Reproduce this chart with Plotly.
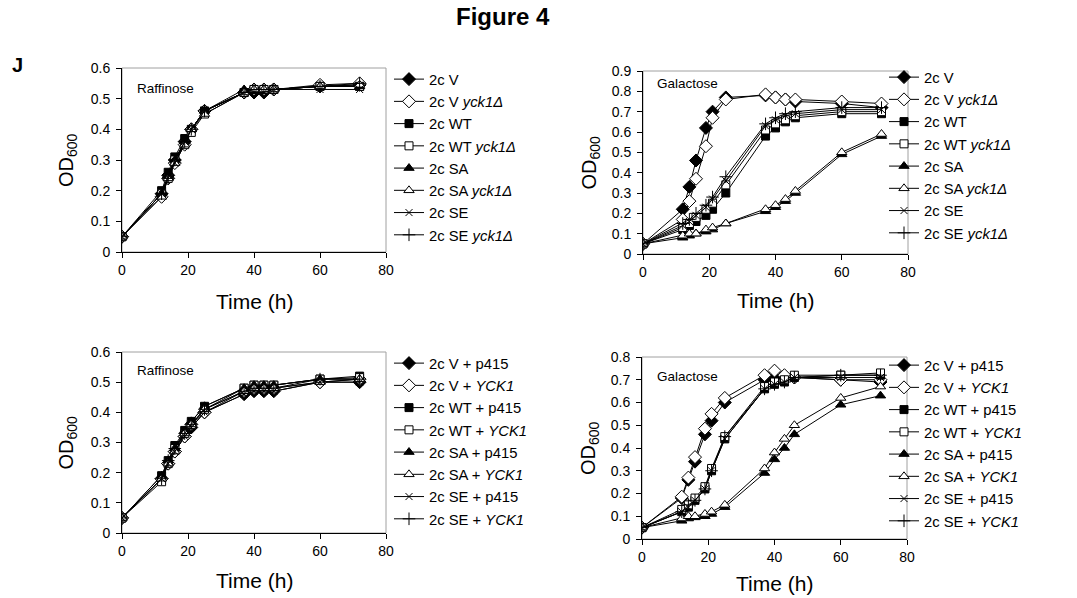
import plotly.graph_objects as go

W, H = 1077, 598

# ---------------- data ----------------
time_h = [0, 12, 14, 16, 19, 21, 25, 37, 40, 43, 46, 60, 72]

# top-left: Raffinose (yck1 deletion)
rafA_V     = [0.05, 0.19, 0.25, 0.30, 0.36, 0.40, 0.46, 0.52, 0.52, 0.52, 0.53, 0.54, 0.545]
rafA_V_d   = [0.05, 0.18, 0.24, 0.29, 0.35, 0.40, 0.46, 0.52, 0.53, 0.53, 0.53, 0.545, 0.55]
rafA_WT    = [0.05, 0.20, 0.26, 0.31, 0.37, 0.40, 0.46, 0.52, 0.53, 0.53, 0.53, 0.54, 0.54]
rafA_WT_d  = [0.05, 0.19, 0.24, 0.30, 0.35, 0.39, 0.45, 0.52, 0.53, 0.53, 0.53, 0.54, 0.54]
rafA_SA    = [0.05, 0.19, 0.25, 0.30, 0.36, 0.40, 0.46, 0.53, 0.53, 0.53, 0.53, 0.54, 0.54]
rafA_SA_d  = [0.05, 0.18, 0.24, 0.29, 0.35, 0.40, 0.45, 0.52, 0.53, 0.53, 0.53, 0.54, 0.545]
rafA_SE    = [0.05, 0.19, 0.25, 0.29, 0.36, 0.40, 0.46, 0.52, 0.52, 0.52, 0.53, 0.53, 0.53]
rafA_SE_d  = [0.05, 0.19, 0.24, 0.30, 0.36, 0.40, 0.46, 0.52, 0.53, 0.53, 0.53, 0.54, 0.55]

# top-right: Galactose (yck1 deletion)
galB_V     = [0.05, 0.22, 0.33, 0.46, 0.62, 0.70, 0.77, 0.78, 0.77, 0.76, 0.75, 0.74, 0.72]
galB_V_d   = [0.05, 0.17, 0.26, 0.37, 0.53, 0.67, 0.76, 0.785, 0.77, 0.76, 0.76, 0.75, 0.74]
galB_WT    = [0.05, 0.12, 0.14, 0.16, 0.19, 0.22, 0.30, 0.58, 0.62, 0.65, 0.67, 0.69, 0.69]
galB_WT_d  = [0.05, 0.13, 0.15, 0.18, 0.22, 0.25, 0.34, 0.61, 0.64, 0.66, 0.68, 0.70, 0.70]
galB_SA    = [0.05, 0.08, 0.09, 0.10, 0.11, 0.12, 0.15, 0.21, 0.23, 0.26, 0.30, 0.49, 0.58]
galB_SA_d  = [0.05, 0.09, 0.10, 0.10, 0.12, 0.13, 0.15, 0.22, 0.24, 0.27, 0.31, 0.50, 0.59]
galB_SE    = [0.05, 0.14, 0.16, 0.19, 0.23, 0.27, 0.36, 0.63, 0.66, 0.68, 0.69, 0.71, 0.71]
galB_SE_d  = [0.05, 0.15, 0.17, 0.20, 0.24, 0.28, 0.38, 0.64, 0.67, 0.69, 0.70, 0.72, 0.72]

# bottom-left: Raffinose (YCK1 plasmid)
rafC_V     = [0.05, 0.18, 0.23, 0.27, 0.32, 0.35, 0.40, 0.46, 0.47, 0.47, 0.47, 0.50, 0.50]
rafC_V_y   = [0.05, 0.18, 0.23, 0.27, 0.32, 0.36, 0.40, 0.47, 0.48, 0.48, 0.48, 0.50, 0.51]
rafC_WT    = [0.05, 0.19, 0.24, 0.29, 0.34, 0.37, 0.42, 0.48, 0.49, 0.49, 0.49, 0.51, 0.52]
rafC_WT_y  = [0.05, 0.17, 0.23, 0.28, 0.33, 0.36, 0.41, 0.48, 0.49, 0.49, 0.49, 0.51, 0.515]
rafC_SA    = [0.05, 0.19, 0.24, 0.28, 0.34, 0.37, 0.42, 0.48, 0.49, 0.49, 0.49, 0.51, 0.51]
rafC_SA_y  = [0.05, 0.18, 0.23, 0.27, 0.33, 0.36, 0.41, 0.47, 0.48, 0.48, 0.48, 0.50, 0.51]
rafC_SE    = [0.05, 0.18, 0.23, 0.27, 0.32, 0.35, 0.40, 0.46, 0.47, 0.47, 0.47, 0.50, 0.50]
rafC_SE_y  = [0.05, 0.18, 0.24, 0.28, 0.33, 0.36, 0.41, 0.47, 0.48, 0.48, 0.48, 0.51, 0.51]

# bottom-right: Galactose (YCK1 plasmid)
galD_V     = [0.05, 0.18, 0.26, 0.34, 0.46, 0.52, 0.60, 0.70, 0.71, 0.71, 0.71, 0.70, 0.69]
galD_V_y   = [0.05, 0.186, 0.27, 0.36, 0.485, 0.55, 0.62, 0.72, 0.74, 0.72, 0.71, 0.70, 0.70]
galD_WT    = [0.05, 0.12, 0.14, 0.17, 0.22, 0.30, 0.44, 0.66, 0.68, 0.69, 0.71, 0.72, 0.72]
galD_WT_y  = [0.05, 0.13, 0.15, 0.18, 0.23, 0.31, 0.45, 0.67, 0.69, 0.70, 0.72, 0.72, 0.73]
galD_SA    = [0.05, 0.08, 0.09, 0.095, 0.10, 0.11, 0.14, 0.29, 0.35, 0.40, 0.46, 0.59, 0.63]
galD_SA_y  = [0.05, 0.09, 0.10, 0.10, 0.11, 0.12, 0.15, 0.31, 0.38, 0.44, 0.50, 0.62, 0.67]
galD_SE    = [0.05, 0.12, 0.14, 0.17, 0.22, 0.30, 0.44, 0.66, 0.68, 0.69, 0.71, 0.71, 0.71]
galD_SE_y  = [0.05, 0.12, 0.15, 0.17, 0.22, 0.30, 0.45, 0.66, 0.68, 0.69, 0.71, 0.72, 0.72]

names_del = ["2c V", "2c V <i>yck1Δ</i>", "2c WT", "2c WT <i>yck1Δ</i>",
             "2c SA", "2c SA <i>yck1Δ</i>", "2c SE", "2c SE <i>yck1Δ</i>"]
names_pl = ["2c V + p415", "2c V + <i>YCK1</i>", "2c WT + p415", "2c WT + <i>YCK1</i>",
            "2c SA + p415", "2c SA + <i>YCK1</i>", "2c SE + p415", "2c SE + <i>YCK1</i>"]

x_title = "Time (h)"
y_title = "OD<sub>600</sub>"

# ---------------- styles ----------------
FONT = "Arial, Liberation Sans, sans-serif"
styles = [
    dict(symbol="diamond", color="black", size=10),
    dict(symbol="diamond", color="white", size=10),
    dict(symbol="square", color="black", size=8),
    dict(symbol="square", color="white", size=8),
    dict(symbol="triangle-up", color="black", size=9),
    dict(symbol="triangle-up", color="white", size=9),
    dict(symbol="x-thin", color="black", size=7),
    dict(symbol="cross-thin", color="black", size=9),
]

def px_dom_x(a, b):
    return [a / W, b / W]

def px_dom_y(top, bottom):
    return [1 - bottom / H, 1 - top / H]

panels = [
    dict(series=[rafA_V, rafA_V_d, rafA_WT, rafA_WT_d, rafA_SA, rafA_SA_d, rafA_SE, rafA_SE_d],
         names=names_del, xd=(122, 386), yd=(68, 252), ymax=0.6, label="Raffinose", leg="legend",
         legxy=(389, 63), labxy=(135, 88), ytx=67, xty=301),
    dict(series=[galB_V, galB_V_d, galB_WT, galB_WT_d, galB_SA, galB_SA_d, galB_SE, galB_SE_d],
         names=names_del, xd=(643, 908), yd=(71, 254), ymax=0.9, label="Galactose", leg="legend2",
         legxy=(884, 61), labxy=(655, 83), ytx=590, xty=300),
    dict(series=[rafC_V, rafC_V_y, rafC_WT, rafC_WT_y, rafC_SA, rafC_SA_y, rafC_SE, rafC_SE_y],
         names=names_pl, xd=(122, 386), yd=(352, 533), ymax=0.6, label="Raffinose", leg="legend3",
         legxy=(389, 347), labxy=(135, 370), ytx=67, xty=580),
    dict(series=[galD_V, galD_V_y, galD_WT, galD_WT_y, galD_SA, galD_SA_y, galD_SE, galD_SE_y],
         names=names_pl, xd=(642, 907), yd=(357, 539), ymax=0.8, label="Galactose", leg="legend4",
         legxy=(884, 349), labxy=(655, 376), ytx=590, xty=583),
]

fig = go.Figure()
layout = dict(
    width=W, height=H, margin=dict(l=0, r=0, t=0, b=0, autoexpand=False),
    paper_bgcolor="white", plot_bgcolor="white",
    font=dict(family=FONT, color="black"),
    showlegend=True,
)
annotations = []
shapes = []

for i, p in enumerate(panels):
    k = "" if i == 0 else str(i + 1)
    xa, ya = "x" + k, "y" + k
    for s, nm, st in zip(p["series"], p["names"], styles):
        fig.add_trace(go.Scatter(
            x=time_h, y=s, name=nm, mode="lines+markers", xaxis=xa, yaxis=ya,
            legend=p["leg"],
            line=dict(color="black", width=1),
            marker=dict(symbol=st["symbol"], size=st["size"], color=st["color"],
                        line=dict(color="black", width=1)),
        ))
    layout["xaxis" + k] = dict(
        domain=px_dom_x(*p["xd"]), anchor=ya, range=[0, 80], tickvals=[0, 20, 40, 60, 80],
        showline=True, linecolor="black", linewidth=1, ticks="outside", ticklen=5,
        tickcolor="black", showgrid=False, zeroline=False, automargin=False,
        tickfont=dict(size=14, family=FONT),
    )
    ymax = p["ymax"]
    n = int(round(ymax * 10))
    layout["yaxis" + k] = dict(
        domain=px_dom_y(*p["yd"]), anchor=xa, range=[0, ymax],
        tickvals=[round(v * 0.1, 1) for v in range(n + 1)],
        ticktext=["0"] + [f"{v*0.1:.1f}" for v in range(1, n + 1)],
        showline=True, linecolor="black", linewidth=1, ticks="outside", ticklen=5,
        tickcolor="black", showgrid=False, zeroline=False, automargin=False,
        ticklabelstandoff=3,
        tickfont=dict(size=14, family=FONT),
    )
    shapes.append(dict(type="rect", xref=xa + " domain", yref=ya + " domain",
                       x0=0, x1=1, y0=0, y1=1, line=dict(color="#a0a0a0", width=1),
                       layer="below"))
    annotations.append(dict(text=p["label"], x=p["labxy"][0] / W, y=1 - p["labxy"][1] / H,
                            xref="paper", yref="paper", xanchor="left", yanchor="middle",
                            showarrow=False, font=dict(size=13.5, family=FONT)))
    # axis titles
    annotations.append(dict(text=x_title, x=(p["xd"][0] + p["xd"][1]) / 2 / W,
                            y=1 - p["xty"] / H, xref="paper", yref="paper",
                            xanchor="center", yanchor="middle", showarrow=False,
                            font=dict(size=21, family=FONT)))
    annotations.append(dict(text=y_title, x=p["ytx"] / W,
                            y=1 - (p["yd"][0] + p["yd"][1]) / 2 / H, xref="paper", yref="paper",
                            xanchor="center", yanchor="middle", showarrow=False, textangle=-90,
                            font=dict(size=20, family=FONT)))
    layout[p["leg"]] = dict(
        x=p["legxy"][0] / W, y=1 - p["legxy"][1] / H, xanchor="left", yanchor="top",
        xref="container", yref="container", bgcolor="rgba(0,0,0,0)", borderwidth=0,
        font=dict(size=14.8, family=FONT), itemwidth=30, tracegroupgap=0,
    )

annotations.append(dict(text="<b>Figure 4</b>", x=503 / W, y=1 - 17 / H, xref="paper", yref="paper",
                        showarrow=False, xanchor="center", yanchor="middle",
                        font=dict(size=24, family=FONT)))
annotations.append(dict(text="<b>J</b>", x=17 / W, y=1 - 65 / H, xref="paper", yref="paper",
                        showarrow=False, xanchor="center", yanchor="middle",
                        font=dict(size=20, family=FONT)))
layout["annotations"] = annotations
layout["shapes"] = shapes
fig.update_layout(**layout)
fig.write_html("out.html", config={"displayModeBar": False},
               post_script="document.body.style.margin='0';")
